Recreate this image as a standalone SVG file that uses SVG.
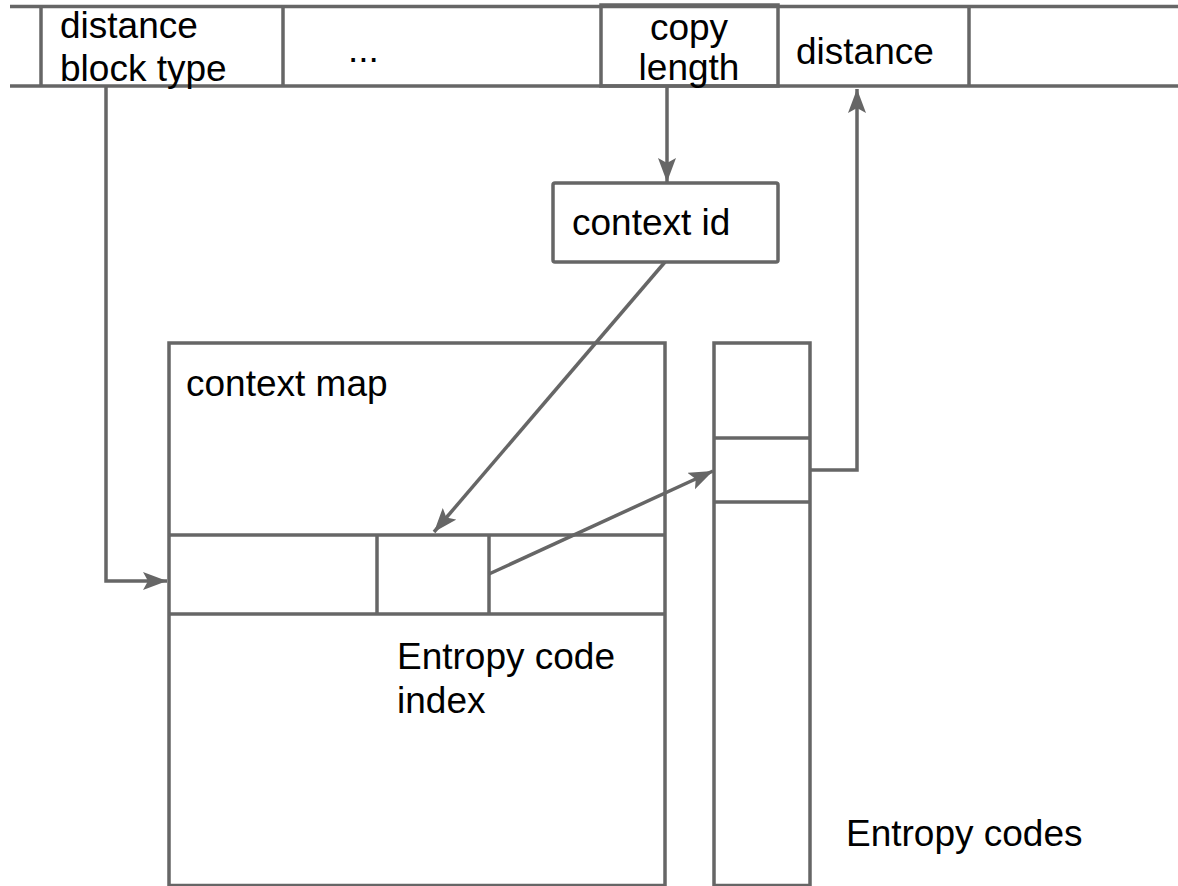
<svg xmlns="http://www.w3.org/2000/svg" width="1178" height="886" viewBox="0 0 1178 886">
  <defs>
    <style>
      .ln { fill: none; stroke: #666666; stroke-width: 3.5; }
      .box { fill: #ffffff; stroke: #666666; stroke-width: 3.5; }
      .lbl { font-family: "Liberation Sans", Arial, sans-serif; font-size: 37px; fill: #000000; }
      .mid { text-anchor: middle; }
    </style>
    <marker id="arrow" markerUnits="userSpaceOnUse" markerWidth="26" markerHeight="20" refX="24" refY="9" orient="auto" viewBox="0 0 26 20">
      <path d="M0,0 L24,9 L0,18 L5,9 Z" fill="#666666"/>
    </marker>
  </defs>
  <rect width="1178" height="886" fill="#ffffff"/>

  <!-- command stream strip -->
  <g id="stream">
    <line class="ln" x1="10" y1="6.5" x2="1178" y2="6.5"/>
    <line class="ln" x1="10" y1="86" x2="1178" y2="86"/>
    <line class="ln" x1="41" y1="6" x2="41" y2="86"/>
    <line class="ln" x1="283" y1="6" x2="283" y2="86"/>
    <line class="ln" x1="969" y1="6" x2="969" y2="86"/>
  </g>

  <g id="cell-distance-block-type">
    <text class="lbl" x="60" y="38">distance</text>
    <text class="lbl" x="60" y="81">block type</text>
  </g>

  <g id="cell-ellipsis">
    <text class="lbl" x="348" y="62">...</text>
  </g>

  <g id="cell-copy-length">
    <rect class="ln" x="601" y="5" width="177" height="81"/>
    <text class="lbl mid" x="689" y="40">copy</text>
    <text class="lbl mid" x="689" y="80">length</text>
  </g>

  <g id="cell-distance">
    <text class="lbl" x="796" y="64">distance</text>
  </g>

  <g id="context-id">
    <rect class="box" x="553" y="183" width="225" height="79" rx="2"/>
    <text class="lbl" x="572" y="235">context id</text>
  </g>

  <g id="context-map">
    <rect class="box" x="169" y="343" width="496" height="542.5"/>
    <line class="ln" x1="169" y1="535" x2="665" y2="535"/>
    <line class="ln" x1="169" y1="614" x2="665" y2="614"/>
    <line class="ln" x1="377" y1="535" x2="377" y2="614"/>
    <line class="ln" x1="489" y1="535" x2="489" y2="614"/>
    <text class="lbl" x="186" y="396">context map</text>
    <text class="lbl" x="397" y="669">Entropy code</text>
    <text class="lbl" x="397" y="713">index</text>
  </g>

  <g id="entropy-codes">
    <rect class="box" x="714" y="343" width="96" height="542.5"/>
    <line class="ln" x1="714" y1="438" x2="810" y2="438"/>
    <line class="ln" x1="714" y1="502" x2="810" y2="502"/>
    <text class="lbl" x="846" y="846">Entropy codes</text>
  </g>

  <!-- connectors -->
  <g id="connectors">
    <polyline class="ln" points="106,86 106,581 167,581" marker-end="url(#arrow)"/>
    <line class="ln" x1="667" y1="86" x2="667" y2="182" marker-end="url(#arrow)"/>
    <line class="ln" x1="665" y1="262" x2="434" y2="532" marker-end="url(#arrow)"/>
    <line class="ln" x1="489" y1="574" x2="713" y2="471" marker-end="url(#arrow)"/>
    <polyline class="ln" points="810,470 857,470 857,89" marker-end="url(#arrow)"/>
  </g>
</svg>
